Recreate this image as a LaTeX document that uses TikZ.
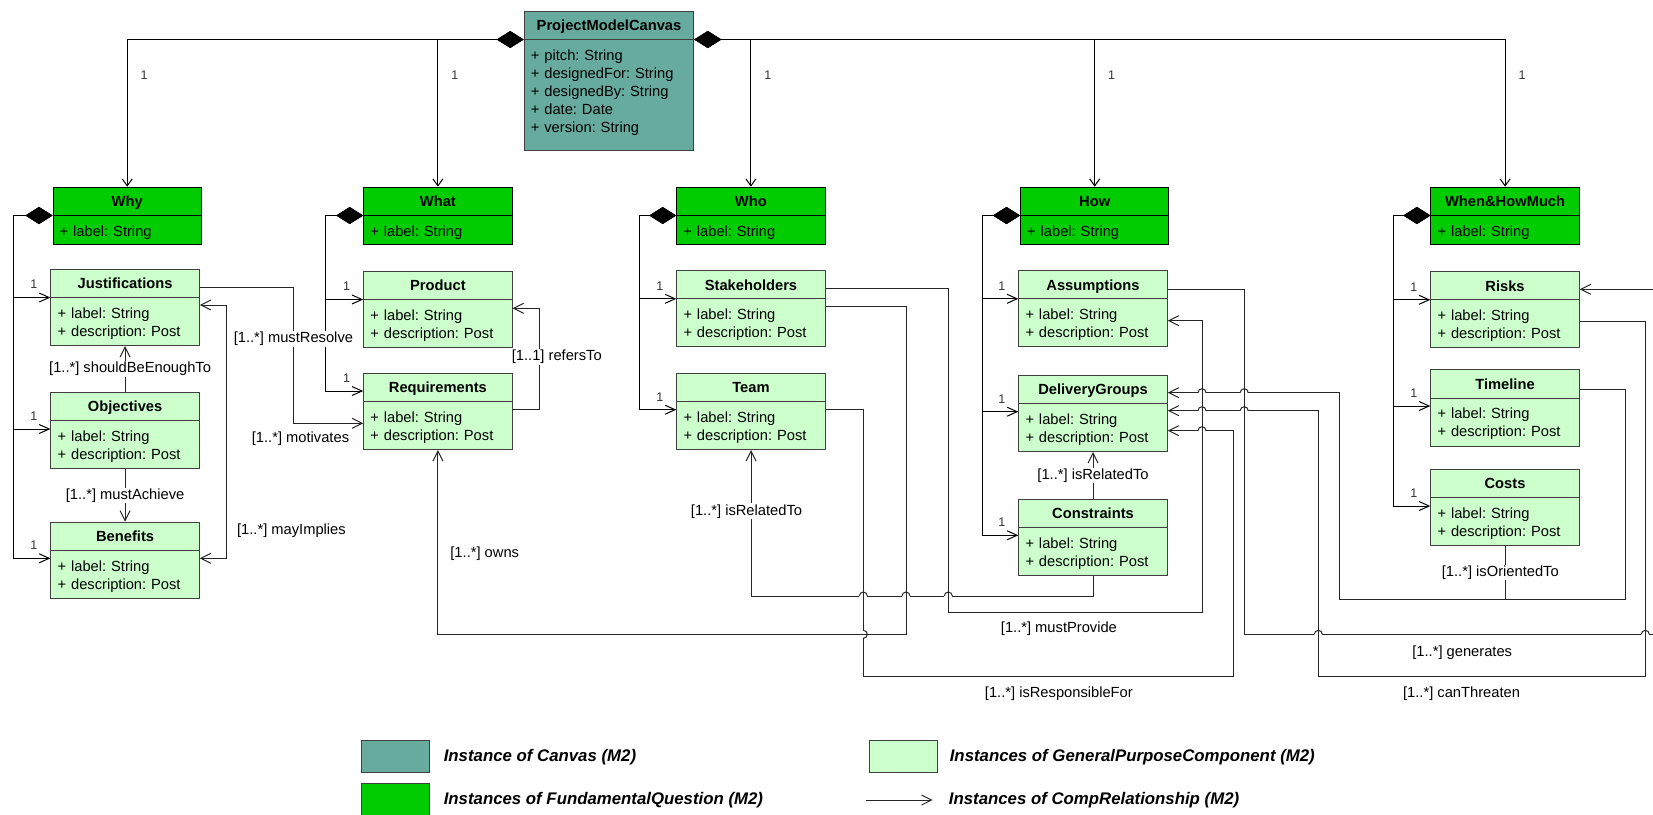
\documentclass[tikz,border=0pt]{standalone}
\usepackage{fontspec}
\setmainfont{Liberation Sans}
\usepackage{tikz}
\usetikzlibrary{arrows.meta, positioning, calc, shapes.multipart}
\usepackage{xcolor}
\definecolor{canvasteal}{RGB}{103,171,159}
\definecolor{questgreen}{RGB}{0,204,0}
\definecolor{compgreen}{RGB}{204,255,204}

\newcommand{\clsname}[1]{\centering\bfseries\rule[-8.3pt]{0pt}{27.3pt}#1\par}
\newcommand{\firstln}{\raggedright\rule{0pt}{20pt}}
\newcommand{\lastln}[1][9pt]{\rule[-#1]{0pt}{#1}\par}
\newcommand{\hoph}[1]{%
  \path #1 coordinate (hop);
  \fill[white] ($(hop)+(-4,-1.5)$) rectangle ($(hop)+(4,1.5)$);
  \draw[wire] ($(hop)+(0,-4)$) -- ($(hop)+(0,4)$);
  \draw[wire] ($(hop)+(-4,0)$) arc[start angle=180, end angle=0, radius=4];}
\newcommand{\hopv}[1]{%
  \path #1 coordinate (hop);
  \fill[white] ($(hop)+(-1.5,-4)$) rectangle ($(hop)+(1.5,4)$);
  \draw[wire] ($(hop)+(-4,0)$) -- ($(hop)+(4,0)$);
  \draw[wire] ($(hop)+(0,4)$) arc[start angle=90, end angle=-90, radius=4];}

\tikzset{
  cls/.style={rectangle split, rectangle split parts=2, anchor=north west, text width=135pt,
    inner xsep=6.7pt, inner ysep=0pt, line width=1pt, font=\fontsize{14.7}{18}\selectfont\frenchspacing},
  canvasbox/.style={cls, text width=156.2pt, fill=canvasteal, draw=black!75},
  questbox/.style={cls, fill=questgreen, draw=black},
  compbox/.style={cls, fill=compgreen, draw=black!75},
  wire/.style={line width=1pt, draw=black!85},
  rel/.style={wire, -{Straight Barb[length=10pt,width=10pt]}},
  relboth/.style={wire, {Straight Barb[length=10pt,width=10pt]}-{Straight Barb[length=10pt,width=10pt]}},
  owner/.style={wire, draw=black, {Diamond[length=27pt,width=17pt]}-{Straight Barb[length=10pt,width=9pt]}},
  topowner/.style={wire, draw=black, {Diamond[length=27pt,width=17pt]}-{Straight Barb[length=7pt,width=10pt]}},
  lbl/.style={fill=white, inner sep=1pt, font=\fontsize{14.7}{17}\selectfont\frenchspacing},
  mult/.style={inner sep=1pt, text=black!80, font=\fontsize{12.5}{14}\selectfont},
  swatch/.style={draw=black!75, line width=1pt, minimum width=68pt, minimum height=32.3pt, inner sep=0pt, anchor=north west},
  legtxt/.style={inner sep=0pt, font=\fontsize{16.8}{20}\selectfont\bfseries\itshape},
}

\begin{document}
\begin{tikzpicture}[x=1pt, y=1pt]
  \useasboundingbox (0,0) rectangle (1653,-814);

  \node[canvasbox] (pmc) at (523.7,-10.7) {\clsname{ProjectModelCanvas}\nodepart{two}\firstln + pitch: String\\+ designedFor: String\\+ designedBy: String\\+ date: Date\\+ version: String\lastln[18pt]};

  \node[questbox] (why) at (52.5,-186.7) {\clsname{Why}\nodepart{two}\firstln + label: String\lastln[7.6pt]};
  \node[questbox] (what) at (363.2,-186.7) {\clsname{What}\nodepart{two}\firstln + label: String\lastln[7.6pt]};
  \node[questbox] (who) at (676.2,-186.7) {\clsname{Who}\nodepart{two}\firstln + label: String\lastln[7.6pt]};
  \node[questbox] (how) at (1020,-186.7) {\clsname{How}\nodepart{two}\firstln + label: String\lastln[7.6pt]};
  \node[questbox] (when) at (1430.4,-186.7) {\clsname{When\&HowMuch}\nodepart{two}\firstln + label: String\lastln[7.6pt]};

  \node[compbox] (just) at (50.4,-268.7) {\clsname{Justifications}\nodepart{two}\firstln + label: String\\+ description: Post\lastln};
  \node[compbox] (obj) at (50.4,-391.7) {\clsname{Objectives}\nodepart{two}\firstln + label: String\\+ description: Post\lastln};
  \node[compbox] (ben) at (50.4,-521.7) {\clsname{Benefits}\nodepart{two}\firstln + label: String\\+ description: Post\lastln};
  \node[compbox] (prod) at (363.2,-270.7) {\clsname{Product}\nodepart{two}\firstln + label: String\\+ description: Post\lastln};
  \node[compbox] (req) at (363.2,-372.7) {\clsname{Requirements}\nodepart{two}\firstln + label: String\\+ description: Post\lastln};
  \node[compbox] (stake) at (676.3,-270) {\clsname{Stakeholders}\nodepart{two}\firstln + label: String\\+ description: Post\lastln};
  \node[compbox] (team) at (676.3,-372.7) {\clsname{Team}\nodepart{two}\firstln + label: String\\+ description: Post\lastln};
  \node[compbox] (assum) at (1018.3,-270) {\clsname{Assumptions}\nodepart{two}\firstln + label: String\\+ description: Post\lastln};
  \node[compbox] (deliv) at (1018.3,-374.7) {\clsname{DeliveryGroups}\nodepart{two}\firstln + label: String\\+ description: Post\lastln};
  \node[compbox] (cons) at (1018.3,-498.7) {\clsname{Constraints}\nodepart{two}\firstln + label: String\\+ description: Post\lastln};
  \node[compbox] (risks) at (1430.3,-271) {\clsname{Risks}\nodepart{two}\firstln + label: String\\+ description: Post\lastln};
  \node[compbox] (timel) at (1430.3,-369.3) {\clsname{Timeline}\nodepart{two}\firstln + label: String\\+ description: Post\lastln};
  \node[compbox] (costs) at (1430.3,-468.7) {\clsname{Costs}\nodepart{two}\firstln + label: String\\+ description: Post\lastln};

  % canvas owns the questions
  \draw[topowner] (pmc.text split west) -| (why.north) node[mult, pos=.62, xshift=17pt] {1};
  \draw[topowner] (pmc.text split west) -| (what.north) node[mult, pos=.62, xshift=17pt] {1};
  \draw[topowner] (pmc.text split east) -| (who.north) node[mult, pos=.62, xshift=17pt] {1};
  \draw[topowner] (pmc.text split east) -| (how.north) node[mult, pos=.62, xshift=17pt] {1};
  \draw[topowner] (pmc.text split east) -| (when.north) node[mult, pos=.62, xshift=17pt] {1};

  % questions own the components
  \draw[owner] (why.text split west) -- ++(-39.3,0) |- (just.text split west) node[mult, pos=1, xshift=-16.5pt, yshift=13pt] {1};
  \draw[owner] (why.text split west) -- ++(-39.3,0) |- ([yshift=-37.3pt]obj.north west) node[mult, pos=1, xshift=-16.5pt, yshift=13pt] {1};
  \draw[owner] (why.text split west) -- ++(-39.3,0) |- ([yshift=-36.6pt]ben.north west) node[mult, pos=1, xshift=-16.5pt, yshift=13pt] {1};
  \draw[owner] (what.text split west) -- ++(-37.5,0) |- (prod.text split west) node[mult, pos=1, xshift=-16.5pt, yshift=13pt] {1};
  \draw[owner] (what.text split west) -- ++(-37.5,0) |- ([yshift=-18.3pt]req.north west) node[mult, pos=1, xshift=-16.5pt, yshift=13pt] {1};
  \draw[owner] (who.text split west) -- ++(-36.7,0) |- (stake.text split west) node[mult, pos=1, xshift=-16.5pt, yshift=13pt] {1};
  \draw[owner] (who.text split west) -- ++(-36.7,0) |- ([yshift=-37pt]team.north west) node[mult, pos=1, xshift=-16.5pt, yshift=13pt] {1};
  \draw[owner] (how.text split west) -- ++(-38,0) |- (assum.text split west) node[mult, pos=1, xshift=-16.5pt, yshift=13pt] {1};
  \draw[owner] (how.text split west) -- ++(-38,0) |- ([yshift=-37pt]deliv.north west) node[mult, pos=1, xshift=-16.5pt, yshift=13pt] {1};
  \draw[owner] (how.text split west) -- ++(-38,0) |- ([yshift=-36.6pt]cons.north west) node[mult, pos=1, xshift=-16.5pt, yshift=13pt] {1};
  \draw[owner] (when.text split west) -- ++(-37.1,0) |- (risks.text split west) node[mult, pos=1, xshift=-16.5pt, yshift=13pt] {1};
  \draw[owner] (when.text split west) -- ++(-37.1,0) |- ([yshift=-36.7pt]timel.north west) node[mult, pos=1, xshift=-16.5pt, yshift=13pt] {1};
  \draw[owner] (when.text split west) -- ++(-37.1,0) |- ([yshift=-37.3pt]costs.north west) node[mult, pos=1, xshift=-16.5pt, yshift=13pt] {1};

  % relationships
  \draw[rel] (obj.north) -- (just.south) node[lbl, midway, xshift=5pt] {[1..*] shouldBeEnoughTo};
  \draw[rel] (obj.south) -- (ben.north) node[lbl, midway] {[1..*] mustAchieve};
  \draw[relboth] ([yshift=-36.3pt]just.north east) -- ++(26.8,0) |- ([yshift=-36.6pt]ben.north east) node[lbl, pos=.445, right=9pt] {[1..*] mayImplies};
  \draw[rel] ([yshift=-18.6pt]just.north east) -- ++(93.6,0) |- ([yshift=-50.6pt]req.north west)
    node[lbl, pos=.19] {[1..*] mustResolve} node[lbl, pos=1, xshift=-62.7pt, yshift=-15pt] {[1..*] motivates};
  \draw[rel] ([yshift=-36.6pt]req.north east) -- ++(26.5,0) |- ([yshift=-37.6pt]prod.north east) node[lbl, pos=.26, xshift=17.7pt] {[1..1] refersTo};
  \draw[rel] ([yshift=-36.7pt]stake.north east) -- ++(80.3,0) coordinate (owa) -- ++(0,-327.6) coordinate (owb) -| (req.south) node[lbl, pos=.72, right=11pt] {[1..*] owns};
  \draw[rel] ([yshift=-18.3pt]stake.north east) -- ++(122.6,0) coordinate (mpa) -- ++(0,-324.4) -- ++(253.7,0) node[lbl, pos=.436, yshift=-16.3pt] {[1..*] mustProvide} coordinate (mpb) |- ([yshift=-50.7pt]assum.north east);
  \draw[rel] ([yshift=-36.6pt]team.north east) -- ++(37.6,0) coordinate (rfa) -- ++(0,-267.4) -- ++(370.4,0) node[lbl, pos=.528, yshift=-16.6pt] {[1..*] isResponsibleFor} |- ([yshift=-56pt]deliv.north east) coordinate (dgc);
  \draw[rel] (cons.south) -- ++(0,-20) coordinate (ira) -| (team.south) node[lbl, pos=.79, xshift=-4.5pt] {[1..*] isRelatedTo};
  \draw[rel] (cons.north) -- (deliv.south) node[lbl, midway] {[1..*] isRelatedTo};
  \draw[rel] ([yshift=-20pt]timel.north east) -- ++(45.3,0) -- ++(0,-209.7) coordinate (ioa) -- ++(-285.7,0) |- ([yshift=-18pt]deliv.north east) coordinate (dga);
  \draw[wire] (costs.south) -- (costs.south |- ioa) node[lbl, midway, xshift=-4.7pt] {[1..*] isOrientedTo};
  \draw[rel] ([yshift=-19pt]assum.north east) -- ++(76.5,0) coordinate (gna) -- ++(0,-345.3) coordinate (gnb) -- ++(430,0) node[lbl, pos=.507, yshift=-18pt] {[1..*] generates} |- ([yshift=-18.3pt]risks.north east);
  \draw[rel] ([yshift=-50pt]risks.north east) -- ++(65.6,0) coordinate (cta) -- ++(0,-355.7) -- ++(-327,0) node[lbl, pos=.562, yshift=-16.6pt] {[1..*] canThreaten} coordinate (ctb) |- ([yshift=-36pt]deliv.north east) coordinate (dgb);

  % line jumps
  \hoph{(mpa |- ira)} \hoph{(owa |- ira)} \hoph{(rfa |- ira)}
  \hoph{(mpb |- dga)} \hoph{(gna |- dga)} \hoph{(mpb |- dgb)} \hoph{(gna |- dgb)} \hoph{(mpb |- dgc)}
  \hoph{(ctb |- gnb)} \hoph{(cta |- gnb)}
  \hopv{(rfa |- owb)}

  % legend
  \node[swatch, fill=canvasteal] (lgcanvas) at (360.6,-740) {};
  \node[legtxt, right=14pt of lgcanvas] {Instance of Canvas (M2)};
  \node[swatch, fill=questgreen] (lgquest) at (360.6,-783.3) {};
  \node[legtxt, right=14pt of lgquest] {Instances of FundamentalQuestion (M2)};
  \node[swatch, fill=compgreen] (lgcomp) at (869,-740) {};
  \node[legtxt, right=11.6pt of lgcomp] {Instances of GeneralPurposeComponent (M2)};
  \coordinate (lga) at (865.7,-800);
  \coordinate (lgb) at (932.7,-800);
  \draw[rel] (lga) -- (lgb);
  \node[legtxt, right=16pt of lgb] {Instances of CompRelationship (M2)};
\end{tikzpicture}
\end{document}
